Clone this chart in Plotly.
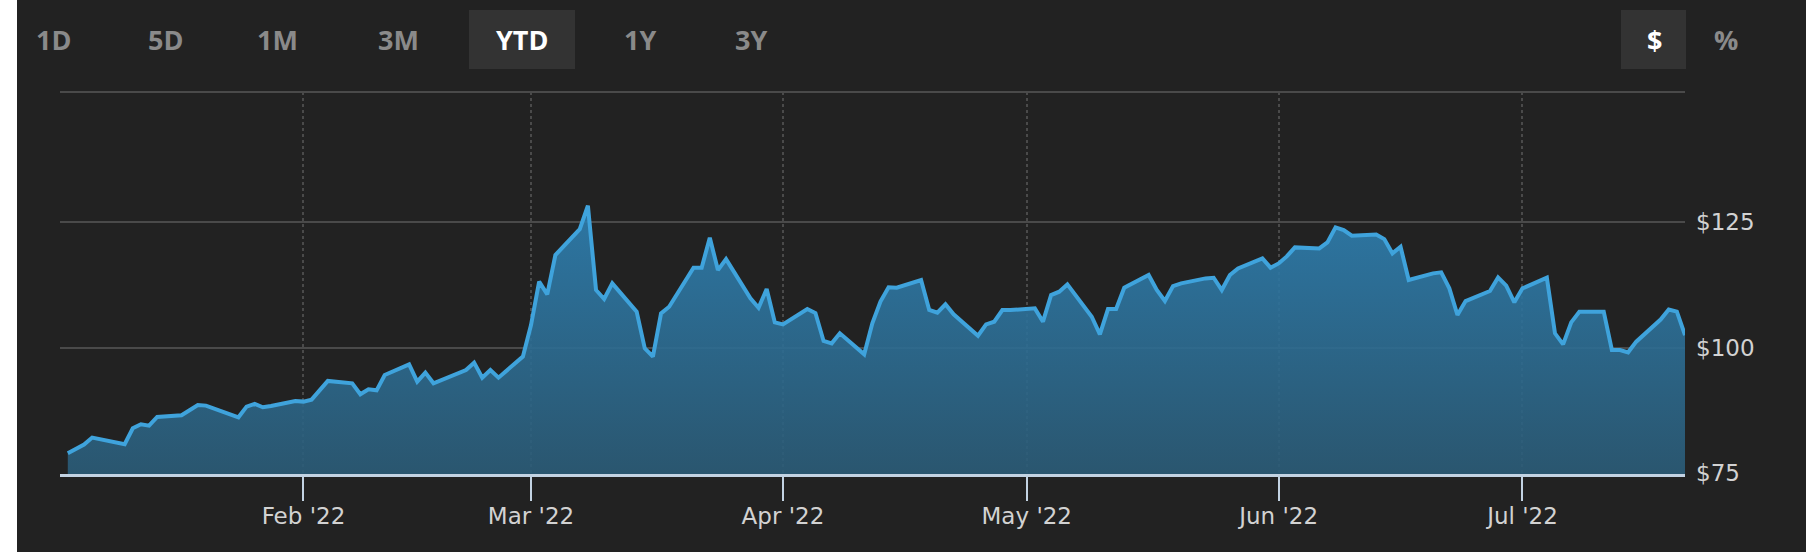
import pandas as pd
import plotly.graph_objects as go

# ---- data (weekday closes) ----
jan_vals = [78.94, 79.80, 80.67, 82.06, 81.73, 80.73, 83.92, 84.72, 84.45, 86.18,
            86.51, 87.57, 88.57, 88.44, 87.84, 86.11, 88.24, 88.77, 88.11, 88.37, 89.37]
feb_vals = [89.24, 89.63, 91.56, 93.36, 92.89, 90.70, 91.69, 91.49, 94.55, 96.68,
            93.22, 95.02, 92.89, 93.53, 95.55, 97.01, 94.02, 95.55, 94.02, 98.21]
mar_vals = [104.52, 113.16, 110.63, 118.47, 123.65, 128.31, 111.50, 109.70, 112.82, 107.18,
            99.87, 98.21, 106.84, 108.17, 115.95, 115.95, 121.93, 115.48, 117.67, 109.83,
            107.97, 111.69, 105.05]
apr_vals = [104.65, 107.71, 106.91, 101.33, 100.86, 102.86, 98.67, 104.85, 109.20, 112.03,
            111.96, 113.49, 107.51, 106.98, 108.64, 106.64, 102.39, 104.65, 105.18, 107.51, 107.51]
may_vals = [107.84, 105.18, 110.50, 111.16, 112.62, 106.18, 102.66, 107.71, 107.71, 111.96,
            114.49, 111.50, 109.30, 112.29, 112.82, 113.82, 113.95, 111.50, 114.49, 115.81,
            117.81, 115.95]
jun_vals = [116.81, 118.20, 120.00, 119.80, 121.00, 123.99, 123.46, 122.33, 122.59, 121.66,
            118.80, 120.13, 113.49, 114.82, 115.02, 111.83, 106.51, 109.30, 111.30, 114.02,
            112.36, 109.04]
jul_vals = [111.83, 113.95, 102.86, 100.66, 105.05, 107.18, 107.18, 99.53, 99.53, 99.07,
            101.20, 105.60, 107.60, 107.20, 102.50]

dates = pd.bdate_range("2022-01-03", "2022-07-21")
values = jan_vals + feb_vals + mar_vals + apr_vals + may_vals + jun_vals + jul_vals

y_tick_vals = [75, 100, 125]
y_tick_text = ["$75", "$100", "$125"]
x_tick_vals = ["2022-02-01", "2022-03-01", "2022-04-01", "2022-05-01", "2022-06-01", "2022-07-01"]

range_buttons = ["1D", "5D", "1M", "3M", "YTD", "1Y", "3Y"]
unit_buttons = ["$", "%"]

# ---- geometry helpers (pixels -> paper coords) ----
W, H = 1806, 552
L, R, T, B = 60, 121, 92, 78
PW, PH = W - L - R, H - T - B


def px(x):
    return (x - L) / PW


def py(y):
    return (H - B - y) / PH


BG = "#222222"
GRID = "#4a4a4a"
AXIS = "#c3d3e3"
LABEL_FONT = "DejaVu Sans"

fig = go.Figure()
fig.add_trace(go.Scatter(
    x=dates, y=values, mode="lines",
    line=dict(color="#3fa3dc", width=4),
    fill="tozeroy",
    fillgradient=dict(type="vertical", start=75, stop=128.5,
                      colorscale=[[0, "rgba(43,92,120,0.9)"], [1, "rgba(46,128,178,0.9)"]]),
    hoverinfo="skip", showlegend=False,
))

shapes = [
    # white strip at the left edge
    dict(type="rect", xref="paper", yref="paper", x0=px(-5), x1=px(17), y0=py(H + 5), y1=py(-5),
         fillcolor="white", line_width=0, layer="above"),
    # top border of the plot
    dict(type="line", xref="paper", yref="paper", x0=0, x1=1, y0=1, y1=1,
         line=dict(color=GRID, width=2)),
    # active range button box (YTD)
    dict(type="rect", xref="paper", yref="paper", x0=px(469), x1=px(575), y0=py(69), y1=py(10),
         fillcolor="#333333", line_width=0),
    # active unit button box ($)
    dict(type="rect", xref="paper", yref="paper", x0=px(1621), x1=px(1686), y0=py(69), y1=py(10),
         fillcolor="#333333", line_width=0),
]

annotations = []
range_centers = [53, 165, 277, 398, 522, 640, 751]
for lab, cx in zip(range_buttons, range_centers):
    annotations.append(dict(
        text=lab, xref="paper", yref="paper", x=px(cx), y=py(40), xanchor="center", yanchor="middle",
        showarrow=False,
        font=dict(family="Open Sans", size=27, weight=700,
                  color="#ffffff" if lab == "YTD" else "#8a8a8a")))
unit_centers = [1654, 1726]
for lab, cx in zip(unit_buttons, unit_centers):
    annotations.append(dict(
        text=lab, xref="paper", yref="paper", x=px(cx), y=py(40), xanchor="center", yanchor="middle",
        showarrow=False,
        font=dict(family="Open Sans", size=27, weight=700,
                  color="#ffffff" if lab == "$" else "#8a8a8a")))

fig.update_layout(
    width=W, height=H,
    margin=dict(l=L, r=R, t=T, b=B, pad=0),
    paper_bgcolor=BG, plot_bgcolor=BG,
    shapes=shapes, annotations=annotations,
    xaxis=dict(
        type="date", range=["2022-01-02 01:00", "2022-07-21"],
        tickvals=x_tick_vals, tickformat="%b '%y",
        showgrid=True, gridcolor=GRID, gridwidth=2, griddash="dot",
        showline=True, linecolor=AXIS, linewidth=3,
        ticks="outside", ticklen=24, tickwidth=2, tickcolor=AXIS,
        ticklabelstandoff=-5,
        tickfont=dict(family=LABEL_FONT, size=23, color="#d2d2d2"),
        zeroline=False, fixedrange=True,
    ),
    yaxis=dict(
        side="right", range=[74.8, 151],
        tickvals=y_tick_vals, ticktext=y_tick_text,
        showgrid=True, gridcolor=GRID, gridwidth=2,
        showline=False, zeroline=False, ticks="",
        ticklabelstandoff=10,
        tickfont=dict(family=LABEL_FONT, size=23, color="#d2d2d2"),
        fixedrange=True,
    ),
)

fig.write_html(
    "out.html",
    config={"displayModeBar": False},
    post_script="document.body.style.margin='0';document.body.style.overflow='hidden';",
)
